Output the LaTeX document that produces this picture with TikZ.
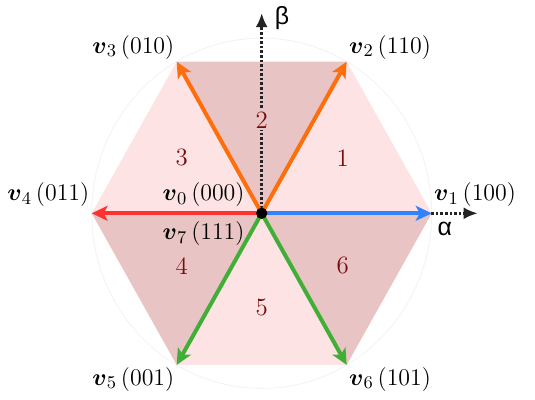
\documentclass[tikz,border=0pt]{standalone}
\usepackage{amsmath,amssymb}
\usepackage{fontspec}
\newfontfamily\axisfont{Liberation Sans}
\usetikzlibrary{arrows.meta}
\definecolor{sectlight}{RGB}{253,227,227}
\definecolor{sectdark}{RGB}{233,196,196}
\definecolor{numred}{RGB}{120,12,12}
\definecolor{vorange}{RGB}{255,110,10}
\definecolor{vblue}{RGB}{50,130,255}
\definecolor{vred}{RGB}{255,50,50}
\definecolor{vgreen}{RGB}{65,175,55}
\definecolor{axisgray}{RGB}{35,35,35}

\begin{document}
\begin{tikzpicture}[x=1cm, y=1.03cm, font=\fontsize{12.5}{15}\selectfont,
    vec/.style={line width=2pt, -{Stealth[length=8pt, width=7.5pt, inset=2pt]}},
    axis/.style={axisgray, line width=1.3pt, densely dotted, -{Latex[length=7pt, width=6pt]}},
    sectnum/.style={text=numred},
    vlabel/.style={inner sep=1pt}]
    \useasboundingbox (-4.618cm,-3.294cm) rectangle (4.823cm,3.764cm);

    % VERTICES
    \coordinate (O) at (0,0);
    \foreach \i in {1,...,6}
        \coordinate (v\i) at ({60*(\i-1)}:3);
    \coordinate (alphaend) at (3.81,0);
    \coordinate (betaend) at (0,3.43);

    % SECTORS
    \fill[sectlight] (O) -- (v1) -- (v2) -- cycle;
    \fill[sectdark]  (O) -- (v2) -- (v3) -- cycle;
    \fill[sectlight] (O) -- (v3) -- (v4) -- cycle;
    \fill[sectdark]  (O) -- (v4) -- (v5) -- cycle;
    \fill[sectlight] (O) -- (v5) -- (v6) -- cycle;
    \fill[sectdark]  (O) -- (v6) -- (v1) -- cycle;
    \draw[gray!10] (O) ellipse (3 and 3);

    % AXES
    \draw[axis] (O) -- (alphaend);
    \draw[axis] (O) -- (betaend);
    \node (alpha) at (3.23,-0.27) {\axisfont α};
    \node (beta) at (0.36,3.34) {\axisfont β};

    % VECTORS
    \draw[vec, vblue] (O) -- (v1);
    \draw[vec, vorange] (O) -- (v2);
    \draw[vec, vorange] (O) -- (v3);
    \draw[vec, vred] (O) -- (v4);
    \draw[vec, vgreen] (O) -- (v5);
    \draw[vec, vgreen] (O) -- (v6);
    \node[circle, fill=black, inner sep=0pt, minimum size=0.2cm] (dot) at (O) {};

    % SECTOR NUMBERS
    \node[sectnum] (s1) at (1.43,0.95) {1};
    \node[sectnum, fill=sectdark, inner sep=1pt] (s2) at (0,1.6) {2};
    \node[sectnum] (s3) at (-1.41,0.95) {3};
    \node[sectnum] (s4) at (-1.41,-0.9) {4};
    \node[sectnum] (s5) at (0,-1.62) {5};
    \node[sectnum] (s6) at (1.43,-0.9) {6};

    % LABELS
    \node[vlabel, anchor=south west, yshift=2pt] (l1) at (v1) {$\boldsymbol{v}_1\,(100)$};
    \node[vlabel, anchor=south west] (l2) at (v2) {$\boldsymbol{v}_2\,(110)$};
    \node[vlabel, anchor=south east] (l3) at (v3) {$\boldsymbol{v}_3\,(010)$};
    \node[vlabel, anchor=south east, yshift=2pt] (l4) at (v4) {$\boldsymbol{v}_4\,(011)$};
    \node[vlabel, anchor=north east] (l5) at (v5) {$\boldsymbol{v}_5\,(001)$};
    \node[vlabel, anchor=north west] (l6) at (v6) {$\boldsymbol{v}_6\,(101)$};
    \node[vlabel, anchor=south east, xshift=-0.26cm, yshift=2pt] (l0) at (O) {$\boldsymbol{v}_0\,(000)$};
    \node[vlabel, anchor=north east, xshift=-0.26cm, yshift=-3pt] (l7) at (O) {$\boldsymbol{v}_7\,(111)$};
\end{tikzpicture}
\end{document}
